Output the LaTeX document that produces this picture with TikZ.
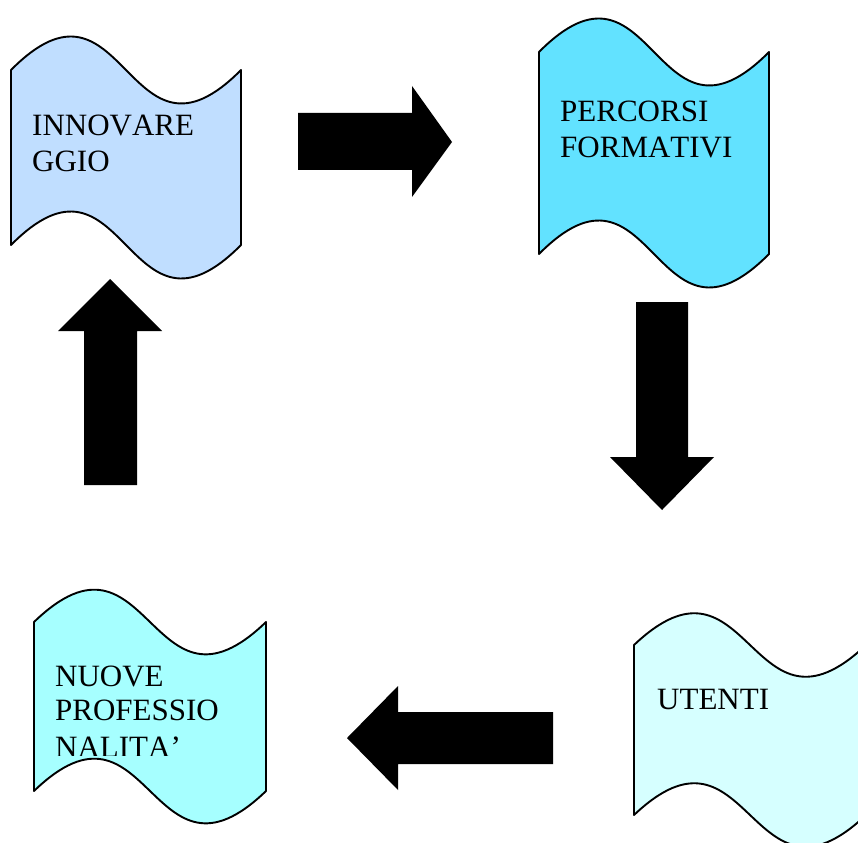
\documentclass[tikz,border=0pt]{standalone}
\usepackage{fontspec}
\setmainfont{Liberation Serif}[Kerning=Off]
\definecolor{cinno}{RGB}{192,222,255}
\definecolor{cperc}{RGB}{98,226,255}
\definecolor{cnuove}{RGB}{166,255,255}
\definecolor{cutenti}{RGB}{214,255,255}
\newcommand\wavepath[5]{(#1,#3) .. controls ({(#1+#2)/2},{#3-#5}) and ({(#1+#2)/2},{#3+#5}) .. (#2,#3) -- (#2,#4) .. controls ({(#1+#2)/2},{#4+#5}) and ({(#1+#2)/2},{#4-#5}) .. (#1,#4) -- cycle}
\tikzset{
  wavebox/.style={draw=black, line width=1.9pt, line join=round},
  blockarrow/.style={fill=black, draw=none},
  lbl/.style={anchor=base west, inner sep=0pt, font=\fontsize{31}{36}\selectfont}
}
\begin{document}
\begin{tikzpicture}[x=1pt, y=-1pt]
\clip (0,0) rectangle (858,842);
% wave shapes
\path[wavebox, fill=cinno] \wavepath{11}{241}{70}{245}{116};
\path[wavebox, fill=cperc] \wavepath{539}{769}{52}{254}{116};
\path[wavebox, fill=cnuove] \wavepath{34}{266}{622}{791}{112};
\path[wavebox, fill=cutenti] \wavepath{634}{866}{645}{815}{110};
% texts
\node[lbl] (t1a) at (32,136) {INNOVARE};
\node[lbl] (t1b) at (32,172) {GGIO};
\node[lbl] (t2a) at (560,122) {PERCORSI};
\node[lbl] (t2b) at (560,158) {FORMATIVI};
\node[lbl] (t3a) at (55,686) {NUOVE};
\node[lbl] (t3b) at (55,720) {PROFESSIO};
\begin{scope}
\clip (0,0) rectangle (858,755.5);
\node[lbl] (t3c) at (55,757) {NALITA’};
\end{scope}
\node[lbl] (t4a) at (657,709) {UTENTI};
% block arrows
\path[blockarrow] (298,113) -- (412,113) -- (412,86) -- (452,142) -- (412,197) -- (412,170) -- (298,170) -- cycle;
\path[blockarrow] (636,302) -- (688,302) -- (688,457) -- (714,457) -- (662,510) -- (610,457) -- (636,457) -- cycle;
\path[blockarrow] (553,712) -- (398,712) -- (398,686) -- (347,738) -- (398,790) -- (398,764) -- (553,764) -- cycle;
\path[blockarrow] (84,485) -- (84,331) -- (58,331) -- (110,279) -- (162,331) -- (137,331) -- (137,485) -- cycle;
\end{tikzpicture}
\end{document}
